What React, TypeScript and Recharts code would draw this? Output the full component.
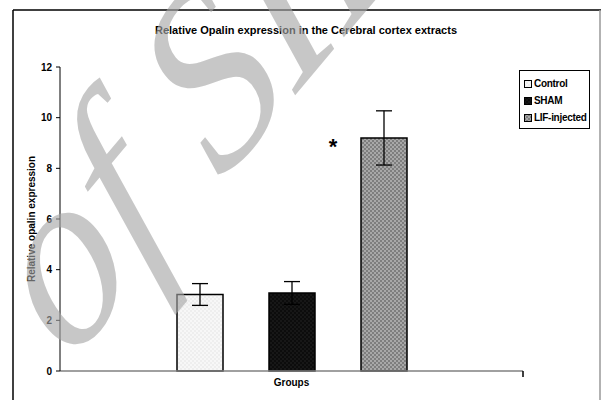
import React from 'react';
import {
  BarChart,
  Bar,
  XAxis,
  YAxis,
  ErrorBar,
  Legend,
  LabelList,
} from 'recharts';

// values
const groups = ['Groups'];
const controlMean = [3.02];
const controlSem = [0.43];
const shamMean = [3.08];
const shamSem = [0.45];
const lifMean = [9.2];
const lifSem = [1.07];
const yTicks = [0, 2, 4, 6, 8, 10, 12];

const seriesNames = ['Control', 'SHAM', 'LIF-injected'];

const data = groups.map((g, i) => ({
  group: g,
  control: controlMean[i],
  controlErr: controlSem[i],
  sham: shamMean[i],
  shamErr: shamSem[i],
  lif: lifMean[i],
  lifErr: lifSem[i],
}));

const font = 'Arial, "Liberation Sans", sans-serif';

const legendSwatch = ['url(#patControl)', 'url(#patSham)', 'url(#patLif)'];

function LegendBox() {
  return (
    <div
      style={{
        border: '1px solid #000',
        background: '#fff',
        padding: '4px 0 2px 4px',
        fontFamily: font,
        fontWeight: 'bold',
        fontSize: 10,
        lineHeight: '17px',
        boxSizing: 'border-box',
        width: 71,
        textAlign: 'left',
      }}
    >
      {seriesNames.map((name, i) => (
        <div key={name} style={{ display: 'flex', alignItems: 'center', whiteSpace: 'nowrap' }}>
          <svg width={8} height={8} style={{ marginRight: 2 }}>
            <rect x={0.5} y={0.5} width={7} height={7} fill={legendSwatch[i]} stroke="#000" />
          </svg>
          <span style={{ letterSpacing: -0.3 }}>{name}</span>
        </div>
      ))}
    </div>
  );
}

function Star(props: any) {
  const { x, y } = props;
  return (
    <text
      x={x - 28}
      y={y + 16}
      textAnchor="middle"
      fontFamily={font}
      fontWeight="bold"
      fontSize={22}
      fill="#000"
    >
      *
    </text>
  );
}

export default function App() {
  return (
    <div style={{ position: 'absolute', left: 0, top: 0, width: 601, height: 400, background: '#fff' }}>
      <BarChart
        width={601}
        height={400}
        data={data}
        margin={{ top: 67, right: 78, bottom: 0, left: 0 }}
        barSize={46}
        barGap={46}
      >
        <defs>
          <pattern id="patControl" width={4} height={4} patternUnits="userSpaceOnUse">
            <rect width={4} height={4} fill="#f7f7f7" />
            <circle cx={1} cy={1} r={0.8} fill="#e4e4e4" />
            <circle cx={3} cy={3} r={0.8} fill="#e4e4e4" />
          </pattern>
          <pattern id="patSham" width={4} height={4} patternUnits="userSpaceOnUse">
            <rect width={4} height={4} fill="#0c0c0c" />
            <circle cx={1} cy={1} r={0.7} fill="#2a2a2a" />
            <circle cx={3} cy={3} r={0.7} fill="#2a2a2a" />
          </pattern>
          <pattern id="patLif" width={4} height={4} patternUnits="userSpaceOnUse">
            <rect width={4} height={4} fill="#a8a8a8" />
            <rect x={0} y={0} width={2} height={2} fill="#7e7e7e" />
            <rect x={2} y={2} width={2} height={2} fill="#7e7e7e" />
          </pattern>
        </defs>
        <XAxis
          dataKey="group"
          height={29}
          tick={false}
          tickLine={false}
          axisLine={{ stroke: '#808080', strokeWidth: 1.5 }}
          label={{
            value: 'Groups',
            position: 'insideTop',
            offset: 8,
            style: { fontFamily: font, fontWeight: 'bold', fontSize: 10, fill: '#000' },
          }}
        />
        <YAxis
          width={60}
          domain={[0, 12]}
          ticks={yTicks}
          interval={0}
          tickSize={4}
          tickMargin={4}
          axisLine={{ stroke: '#000', strokeWidth: 1 }}
          tickLine={{ stroke: '#000' }}
          tick={{ fontFamily: font, fontWeight: 'bold', fontSize: 10, fill: '#000' }}
          label={{
            value: 'Relative opalin expression',
            angle: -90,
            position: 'insideLeft',
            offset: 31,
            style: {
              textAnchor: 'middle',
              fontFamily: font,
              fontWeight: 'bold',
              fontSize: 10,
              fill: '#000',
            },
          }}
        />
        <Legend
          layout="horizontal"
          align="center"
          verticalAlign="middle"
          content={<LegendBox />}
          wrapperStyle={{ left: 519, top: 70, width: 71 }}
        />
        <Bar dataKey="control" name="Control" fill="url(#patControl)" stroke="#000" strokeWidth={1.5} isAnimationActive={false}>
          <ErrorBar dataKey="controlErr" width={8} stroke="#000" strokeWidth={1.3} />
        </Bar>
        <Bar dataKey="sham" name="SHAM" fill="url(#patSham)" stroke="#000" strokeWidth={1.5} isAnimationActive={false}>
          <ErrorBar dataKey="shamErr" width={8} stroke="#000" strokeWidth={1.3} />
        </Bar>
        <Bar dataKey="lif" name="LIF-injected" fill="url(#patLif)" stroke="#000" strokeWidth={1.5} isAnimationActive={false}>
          <ErrorBar dataKey="lifErr" width={8} stroke="#000" strokeWidth={1.3} />
          <LabelList dataKey="lif" content={<Star />} />
        </Bar>
      </BarChart>
      <svg
        width={601}
        height={400}
        style={{ position: 'absolute', left: 0, top: 0, pointerEvents: 'none' }}
      >
        <line x1={13} y1={400} x2={13} y2={10} stroke="#000" strokeWidth={1.5} />
        <line x1={13} y1={10} x2={601} y2={10} stroke="#000" strokeWidth={1.5} />
        <line x1={600} y1={10} x2={600} y2={400} stroke="#999" strokeWidth={1.5} />
        <line x1={523} y1={371} x2={523} y2={377} stroke="#000" strokeWidth={1.5} />
        <text
          x={306}
          y={34}
          textAnchor="middle"
          fontFamily={font}
          fontWeight="bold"
          fontSize={11}
          fill="#000"
        >
          Relative Opalin expression in the Cerebral cortex extracts
        </text>
        <g transform="translate(68 366) rotate(-50) skewX(-12)">
          <text
            x={0}
            y={0}
            fontFamily='"Liberation Serif", serif'
            fontStyle="italic"
            fontSize={232}
            fill="#a6a6a6"
            opacity={0.62}
          >
            of SID
          </text>
        </g>
      </svg>
    </div>
  );
}
